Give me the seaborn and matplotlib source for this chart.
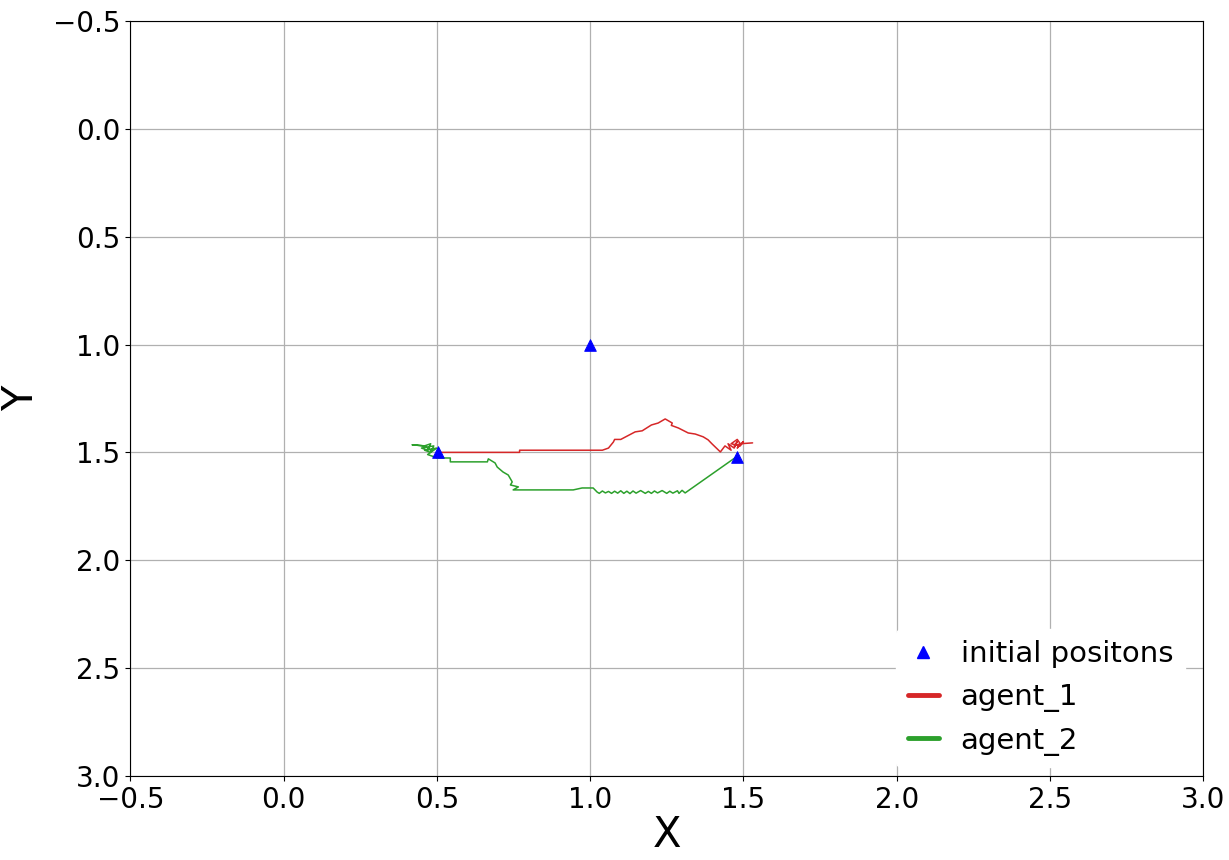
import matplotlib
matplotlib.use("Agg")
import matplotlib.pyplot as plt
import seaborn as sns
import pandas as pd
from matplotlib.lines import Line2D

# initial positions
init_x = [1.0, 0.505, 1.478]
init_y = [1.0, 1.50, 1.52]

# agent_1 trajectory
a1_x = [0.50, 0.77, 0.77, 1.04, 1.06, 1.076, 1.08, 1.10, 1.147, 1.17, 1.20, 1.222, 1.245,
        1.268, 1.265, 1.288, 1.32, 1.343, 1.369, 1.385, 1.398, 1.425,
        1.44, 1.46, 1.45, 1.47, 1.48, 1.47, 1.49, 1.48, 1.50, 1.49, 1.46, 1.48, 1.49, 1.53]
a1_y = [1.50, 1.50, 1.49, 1.49, 1.48, 1.452, 1.44, 1.44, 1.405, 1.40, 1.373, 1.364, 1.345,
        1.364, 1.375, 1.387, 1.41, 1.415, 1.428, 1.442, 1.461, 1.498,
        1.47, 1.49, 1.46, 1.48, 1.45, 1.47, 1.46, 1.48, 1.45, 1.47, 1.46, 1.44, 1.46, 1.456]

# agent_2 trajectory
a2_x = [1.478, 1.31, 1.30, 1.29, 1.285, 1.27, 1.26, 1.25, 1.235, 1.22, 1.21, 1.20, 1.19,
        1.18, 1.165, 1.15, 1.14, 1.13, 1.12, 1.11, 1.10, 1.09, 1.08, 1.07, 1.06, 1.05,
        1.04, 1.03, 1.023, 1.01, 0.974, 0.945, 0.749, 0.766, 0.740, 0.746, 0.733, 0.716,
        0.697, 0.690, 0.668, 0.665, 0.544, 0.544, 0.50,
        0.49, 0.47, 0.50, 0.46, 0.48, 0.49, 0.45, 0.47, 0.48, 0.46, 0.42, 0.46, 0.48]
a2_y = [1.52, 1.688, 1.676, 1.690, 1.678, 1.689, 1.680, 1.690, 1.677, 1.688, 1.679, 1.690,
        1.681, 1.690, 1.677, 1.689, 1.679, 1.691, 1.680, 1.690, 1.678, 1.689, 1.680, 1.690,
        1.681, 1.688, 1.679, 1.690, 1.684, 1.665, 1.665, 1.674, 1.674, 1.660, 1.651, 1.637,
        1.605, 1.591, 1.568, 1.549, 1.530, 1.544, 1.544, 1.526, 1.526,
        1.52, 1.51, 1.48, 1.49, 1.50, 1.47, 1.48, 1.49, 1.46, 1.47, 1.465, 1.47, 1.49]

legend_labels = ["initial positons", "agent_1", "agent_2"]

sns.set_style("ticks")
plt.rcParams['font.family'] = ['DejaVu Sans']
plt.rcParams.update({"text.color": "black", "axes.labelcolor": "black",
                     "xtick.color": "black", "ytick.color": "black"})

fig = plt.figure(figsize=(12.29, 8.6), dpi=100)
ax = fig.add_axes([0.106, 0.0977, 0.873, 0.878])

df1 = pd.DataFrame({"x": a1_x, "y": a1_y})
df2 = pd.DataFrame({"x": a2_x, "y": a2_y})
dfi = pd.DataFrame({"x": init_x, "y": init_y})

sns.lineplot(data=df1, x="x", y="y", sort=False, estimator=None, color="#d62728", lw=1.1, ax=ax, zorder=3)
sns.lineplot(data=df2, x="x", y="y", sort=False, estimator=None, color="#2ca02c", lw=1.1, ax=ax, zorder=3)
sns.scatterplot(data=dfi, x="x", y="y", marker="^", color="blue", s=70, edgecolor="blue", ax=ax, zorder=4)

ax.set_xlim(-0.5, 3.0)
ax.set_ylim(3.0, -0.5)
ax.set_xticks([-0.5, 0.0, 0.5, 1.0, 1.5, 2.0, 2.5, 3.0])
ax.set_yticks([-0.5, 0.0, 0.5, 1.0, 1.5, 2.0, 2.5, 3.0])
ax.tick_params(labelsize=20, colors="black")
ax.grid(True, color="#b0b0b0", lw=0.9)
ax.set_axisbelow(True)
for s in ax.spines.values():
    s.set_visible(True)
    s.set_color("black")
    s.set_linewidth(0.8)
ax.set_xlabel("X", fontsize=30, labelpad=0)
ax.set_ylabel("Y", fontsize=30, labelpad=8)

handles = [
    Line2D([], [], marker="^", ls="none", color="blue", markersize=8),
    Line2D([], [], color="#d62728", lw=3.5),
    Line2D([], [], color="#2ca02c", lw=3.5),
]
leg = ax.legend(handles, legend_labels, loc="lower right", bbox_to_anchor=(0.991, 0.0),
                fontsize=21, frameon=True, edgecolor="white", facecolor="white",
                framealpha=1.0, borderaxespad=0.3, handlelength=1.05, handletextpad=0.75,
                labelspacing=0.5)

fig.savefig("out.png", dpi=100)
